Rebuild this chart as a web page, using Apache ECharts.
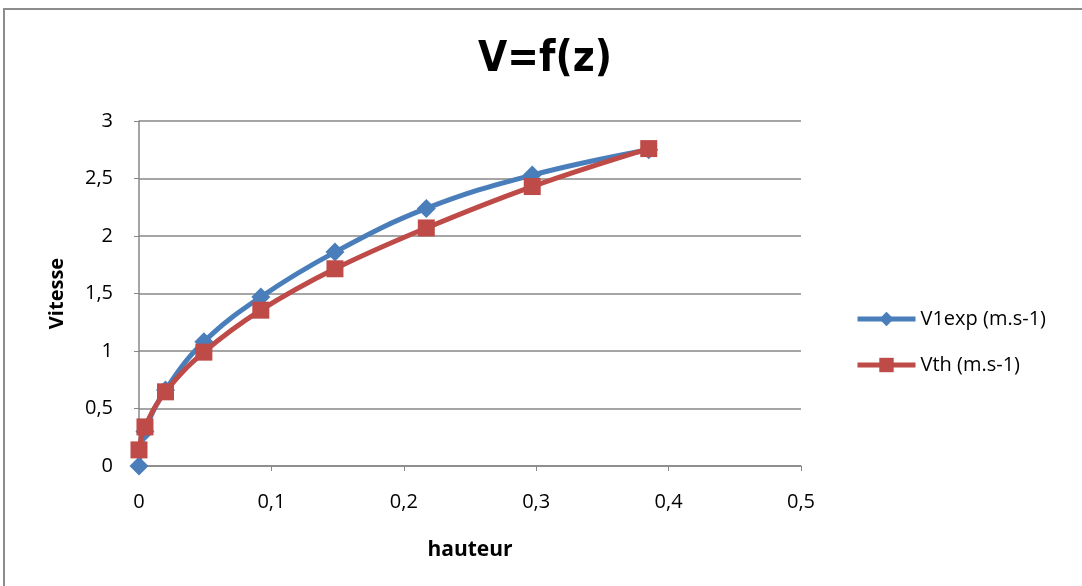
<!DOCTYPE html>
<html>
<head>
<meta charset="utf-8">
<script src="https://cdn.jsdelivr.net/npm/echarts@6/dist/echarts.min.js"></script>
<style>
html,body{margin:0;padding:0;background:#fff;}
#frame{position:absolute;left:3px;top:8px;width:1090px;height:600px;border-left:2px solid #8c8c8c;border-top:2px solid #8c8c8c;box-sizing:border-box;}
#c{position:absolute;left:0;top:0;width:1082px;height:586px;}
</style>
</head>
<body>
<div id="frame"></div>
<div id="c"></div>
<script>
var hauteur = [0, 0.0045, 0.020, 0.049, 0.092, 0.148, 0.217, 0.297, 0.385];
var v1exp = [0, 0.30, 0.66, 1.08, 1.47, 1.86, 2.24, 2.53, 2.75];
var hauteurTh = [0, 0.0045, 0.020, 0.049, 0.092, 0.148, 0.217, 0.297, 0.385];
var vth = [0.14, 0.34, 0.645, 0.99, 1.355, 1.715, 2.07, 2.43, 2.76];
var seriesNames = ['V1exp (m.s-1)', 'Vth (m.s-1)'];

function pairs(xs, ys){ return xs.map(function(x,i){ return [x, ys[i]]; }); }
function comma(v){ return String(v).replace('.', ','); }
var font = "'Open Sans', sans-serif";

var chart = echarts.init(document.getElementById('c'));
chart.setOption({
  animation:false,
  title:{text:'V=f(z)', left:540, top:34, textAlign:'center',
    textStyle:{fontFamily:"'DejaVu Sans Condensed', 'Open Sans', sans-serif", fontWeight:'bold', fontSize:42, color:'#000'}},
  legend:{orient:'vertical', left:850, top:304, itemGap:26, itemWidth:58, itemHeight:18,
    lineStyle:{width:5},
    textStyle:{fontFamily:font, fontSize:20, color:'#000'},
    data:seriesNames},
  grid:{left:139, top:121, width:662, height:345},
  xAxis:{type:'value', min:0, max:0.5, interval:0.1,
    name:'hauteur', nameLocation:'middle', nameGap:74,
    nameTextStyle:{fontFamily:font, fontWeight:'bold', fontSize:21, color:'#000'},
    axisLine:{show:true, lineStyle:{color:'#878787', width:1.5}},
    axisTick:{show:true, length:5, lineStyle:{color:'#878787'}},
    splitLine:{show:false},
    axisLabel:{formatter:comma, fontFamily:font, fontSize:20, color:'#000', margin:26}},
  yAxis:{type:'value', min:0, max:3, interval:0.5,
    name:'Vitesse', nameLocation:'middle', nameGap:72, nameRotate:90,
    nameTextStyle:{fontFamily:font, fontWeight:'bold', fontSize:20, color:'#000'},
    axisLine:{show:true, lineStyle:{color:'#878787', width:1.5}},
    axisTick:{show:true, length:5, lineStyle:{color:'#878787'}},
    splitLine:{show:true, lineStyle:{color:'#878787', width:1.5}},
    axisLabel:{formatter:comma, fontFamily:font, fontSize:20, color:'#000', margin:26}},
  series:[
    {name:seriesNames[0], type:'line', smooth:0.4, data:pairs(hauteur, v1exp),
     symbol:'diamond', symbolSize:19, lineStyle:{color:'#4a7ebb', width:5},
     itemStyle:{color:'#4a7ebb'}, z:2},
    {name:seriesNames[1], type:'line', smooth:0.4, data:pairs(hauteurTh, vth),
     symbol:'rect', symbolSize:17, lineStyle:{color:'#be4b48', width:5},
     itemStyle:{color:'#be4b48'}, z:3}
  ]
});
</script>
</body>
</html>
